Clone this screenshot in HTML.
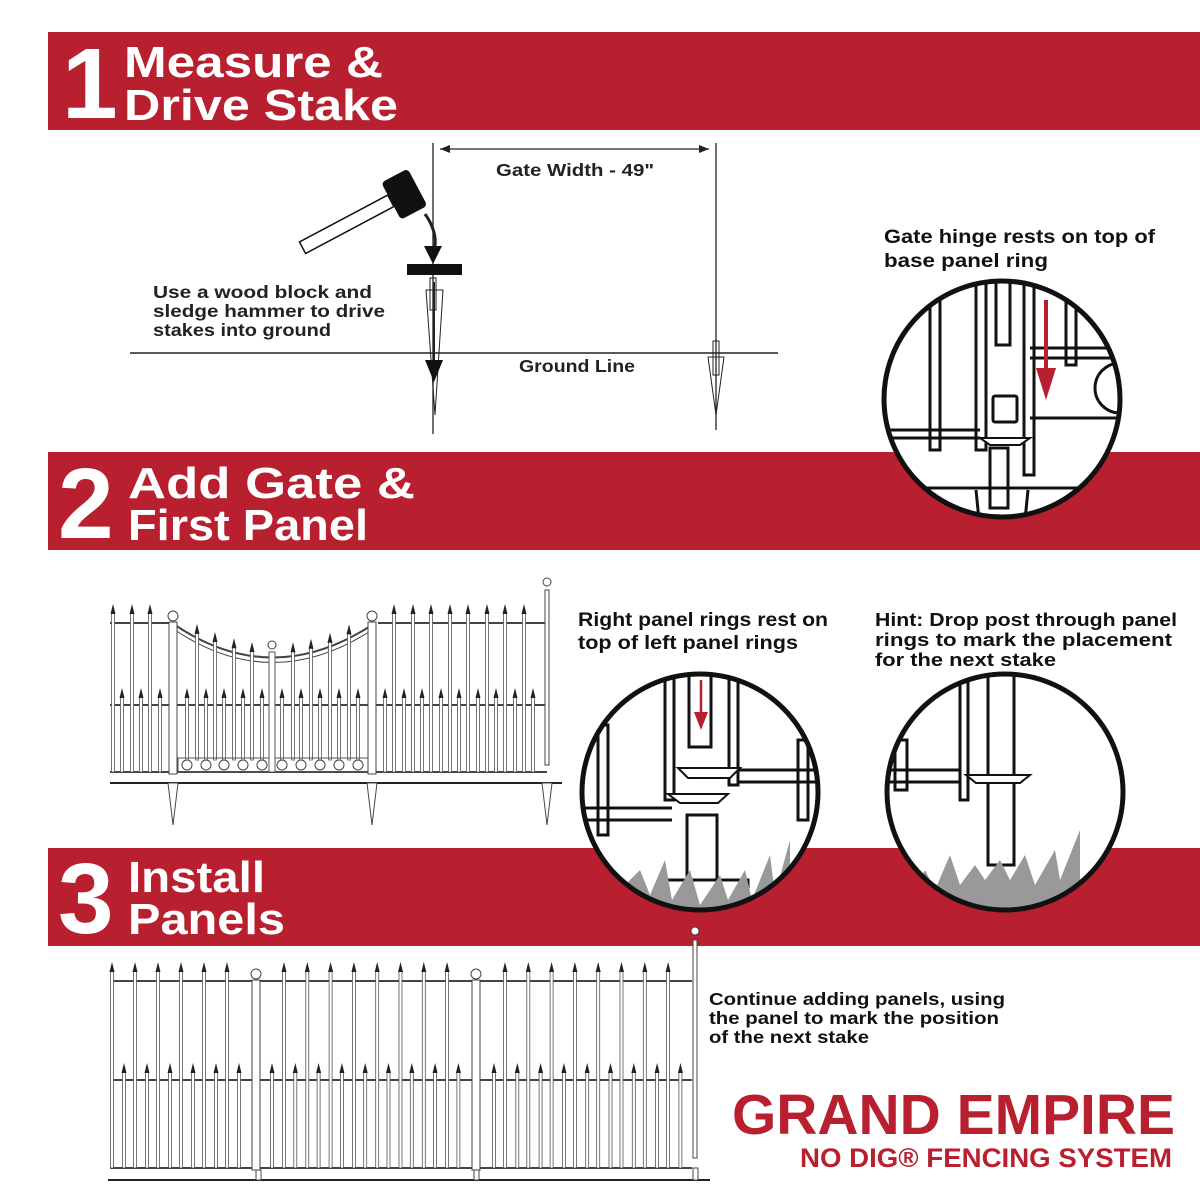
<!DOCTYPE html>
<html><head><meta charset="utf-8"><style>
html,body{margin:0;padding:0;background:#fff}
svg{display:block}
text{font-family:"Liberation Sans",sans-serif;font-weight:bold}
</style></head><body>
<svg id="s" width="1200" height="1200" viewBox="0 0 1200 1200" xmlns="http://www.w3.org/2000/svg">
<defs>
<clipPath id="c1"><circle cx="1002" cy="399" r="117"/></clipPath>
<clipPath id="c2"><circle cx="700" cy="792" r="118"/></clipPath>
<clipPath id="c3"><circle cx="1005" cy="792" r="118"/></clipPath>
</defs>
<rect width="1200" height="1200" fill="#fff"/>
<rect x="48" y="32" width="1152" height="98" fill="#b81f2f"/>
<rect x="48" y="452" width="1152" height="98" fill="#b81f2f"/>
<rect x="48" y="848" width="1152" height="98" fill="#b81f2f"/>
<g fill="#fff">
<text x="62" y="118" font-size="100">1</text>
<text x="124" y="77" font-size="44" textLength="259" lengthAdjust="spacingAndGlyphs">Measure &amp;</text>
<text x="124" y="120" font-size="44" textLength="274" lengthAdjust="spacingAndGlyphs">Drive Stake</text>
<text x="58" y="538" font-size="100">2</text>
<text x="128" y="498" font-size="44" textLength="287" lengthAdjust="spacingAndGlyphs">Add Gate &amp;</text>
<text x="128" y="540" font-size="44" textLength="240" lengthAdjust="spacingAndGlyphs">First Panel</text>
<text x="58" y="933" font-size="100">3</text>
<text x="128" y="892" font-size="44" textLength="137" lengthAdjust="spacingAndGlyphs">Install</text>
<text x="128" y="934" font-size="44" textLength="157" lengthAdjust="spacingAndGlyphs">Panels</text>
</g>
<g stroke="#222" fill="none">
<line x1="433" y1="143" x2="433" y2="434" stroke-width="1.3"/>
<line x1="716" y1="143" x2="716" y2="430" stroke-width="1.3"/>
<line x1="440" y1="149" x2="709" y2="149" stroke-width="1.3"/>
<line x1="130" y1="353" x2="778" y2="353" stroke-width="1.5"/>
<polygon points="426,290 443,290 435,415" stroke-width="1"/>
<rect x="430" y="278" width="6" height="32" stroke-width="1"/>
<polygon points="708,357 724,357 716,415" stroke-width="1"/>
<rect x="713" y="341" width="6" height="34" stroke-width="1"/>
<line x1="434" y1="282" x2="434" y2="365" stroke-width="2"/>
<path d="M425,214 Q440,235 433,255" stroke-width="3"/>
</g>
<polygon points="440,149 450,145 450,153" fill="#222"/>
<polygon points="709,149 699,145 699,153" fill="#222"/>
<polygon points="424,246 442,246 433,264" fill="#111"/>
<polygon points="425,360 443,360 434,382" fill="#111"/>
<rect x="407" y="264" width="55" height="11" fill="#111"/>
<g transform="translate(395,198) rotate(-28)">
<rect x="-105" y="-6" width="100" height="13" fill="#fff" stroke="#111" stroke-width="1.5"/>
<rect x="-5" y="-20" width="30" height="42" rx="4" fill="#111"/>
</g>
<g fill="#222" font-size="17.5">
<text x="496" y="176" textLength="158" lengthAdjust="spacingAndGlyphs">Gate Width - 49"</text>
<text x="519" y="372" textLength="116" lengthAdjust="spacingAndGlyphs">Ground Line</text>
<text x="153" y="298" textLength="219" lengthAdjust="spacingAndGlyphs">Use a wood block and</text>
<text x="153" y="317" textLength="232" lengthAdjust="spacingAndGlyphs">sledge hammer to drive</text>
<text x="153" y="336" textLength="178" lengthAdjust="spacingAndGlyphs">stakes into ground</text>
</g>
<g fill="#111" font-size="19.5">
<text x="884" y="243" textLength="271" lengthAdjust="spacingAndGlyphs">Gate hinge rests on top of</text>
<text x="884" y="267" textLength="164" lengthAdjust="spacingAndGlyphs">base panel ring</text>
<text x="578" y="626" textLength="250" lengthAdjust="spacingAndGlyphs">Right panel rings rest on</text>
<text x="578" y="649" textLength="220" lengthAdjust="spacingAndGlyphs">top of left panel rings</text>
</g>
<g fill="#111" font-size="18.5">
<text x="875" y="626" textLength="302" lengthAdjust="spacingAndGlyphs">Hint: Drop post through panel</text>
<text x="875" y="646" textLength="297" lengthAdjust="spacingAndGlyphs">rings to mark the placement</text>
<text x="875" y="666" textLength="181" lengthAdjust="spacingAndGlyphs">for the next stake</text>
</g>
<g fill="#111" font-size="17.5">
<text x="709" y="1005" textLength="296" lengthAdjust="spacingAndGlyphs">Continue adding panels, using</text>
<text x="709" y="1024" textLength="290" lengthAdjust="spacingAndGlyphs">the panel to mark the position</text>
<text x="709" y="1043" textLength="160" lengthAdjust="spacingAndGlyphs">of the next stake</text>
</g>
<text x="732" y="1134" font-size="57" fill="#b81f2f" textLength="443" lengthAdjust="spacingAndGlyphs">GRAND EMPIRE</text>
<text x="800" y="1167" font-size="27" fill="#b81f2f" textLength="372" lengthAdjust="spacingAndGlyphs">NO DIG® FENCING SYSTEM</text>

<circle cx="1002" cy="399" r="118" fill="#fff"/>
<g clip-path="url(#c1)" stroke="#111" stroke-width="3" fill="#fff">
<rect x="930" y="280" width="10" height="170"/>
<rect x="976" y="280" width="10" height="170"/>
<rect x="996" y="280" width="14" height="65"/>
<rect x="1024" y="280" width="10" height="195"/>
<rect x="1066" y="300" width="10" height="65"/>
<line x1="1030" y1="348" x2="1130" y2="348"/>
<line x1="1030" y1="358" x2="1130" y2="358"/>
<line x1="1030" y1="418" x2="1130" y2="418"/>
<circle cx="1120" cy="388" r="25"/>
<line x1="880" y1="430" x2="980" y2="430"/>
<line x1="880" y1="438" x2="980" y2="438"/>
<rect x="993" y="396" width="24" height="26" rx="2"/>
<path d="M980,438 L1030,438 L1020,445 L990,445 Z" stroke-width="2"/>
<rect x="990" y="448" width="18" height="60"/>
<line x1="880" y1="488" x2="1130" y2="488"/>
<path d="M976,490 L980,530 M1028,490 L1024,530" />
</g>
<line x1="1046" y1="300" x2="1046" y2="380" stroke="#b81f2f" stroke-width="4"/>
<polygon points="1036,368 1056,368 1046,400" fill="#b81f2f"/>
<circle cx="1002" cy="399" r="118" fill="none" stroke="#111" stroke-width="5"/>

<circle cx="700" cy="792" r="118" fill="#fff"/>
<g clip-path="url(#c2)" stroke="#111" stroke-width="3" fill="#fff">
<rect x="665" y="670" width="9" height="130"/>
<rect x="689" y="670" width="22" height="77"/>
<rect x="729" y="670" width="9" height="115"/>
<rect x="598" y="725" width="10" height="110"/>
<rect x="798" y="740" width="10" height="80"/>
<line x1="580" y1="808" x2="672" y2="808"/><line x1="580" y1="820" x2="672" y2="820"/>
<line x1="738" y1="770" x2="820" y2="770"/><line x1="738" y1="782" x2="820" y2="782"/>
<path d="M678,768 L740,768 L730,778 L688,778 Z" stroke-width="2"/>
<path d="M668,794 L728,794 L718,803 L680,803 Z" stroke-width="2"/>
<rect x="687" y="815" width="30" height="95"/>
<path d="M661,910 L661,880 L748,880 L748,910" fill="none"/>
</g>
<g clip-path="url(#c2)" fill="#999">
<path d="M600,910 L640,870 L650,895 L665,860 L672,900 L690,870 L700,905 L720,875 L728,900 L745,870 L752,900 L770,855 L775,895 L790,840 L790,915 Z"/>
</g>
<line x1="701" y1="680" x2="701" y2="718" stroke="#b81f2f" stroke-width="2.5"/>
<polygon points="694,712 708,712 701,730" fill="#b81f2f"/>
<circle cx="700" cy="792" r="118" fill="none" stroke="#111" stroke-width="5"/>

<circle cx="1005" cy="792" r="118" fill="#fff"/>
<g clip-path="url(#c3)" stroke="#111" stroke-width="3" fill="#fff">
<rect x="960" y="670" width="8" height="130"/>
<rect x="988" y="670" width="26" height="195"/>
<rect x="895" y="740" width="12" height="50"/>
<line x1="880" y1="770" x2="960" y2="770"/><line x1="880" y1="782" x2="960" y2="782"/>
<path d="M966,775 L1030,775 L1020,783 L976,783 Z" stroke-width="2"/>
</g>
<g clip-path="url(#c3)" fill="#999">
<path d="M900,915 L925,870 L935,890 L950,855 L960,885 L975,865 L985,880 L1000,860 L1010,880 L1025,855 L1035,885 L1055,850 L1060,880 L1080,830 L1080,915 Z"/>
</g>
<circle cx="1005" cy="792" r="118" fill="none" stroke="#111" stroke-width="5"/>

<g id="fences"></g>
</svg>
<script>
var g=document.getElementById('fences'),h='';
function ln(a,b,c,d,w,col){h+='<line x1="'+a+'" y1="'+b+'" x2="'+c+'" y2="'+d+'" stroke="'+(col||'#444')+'" stroke-width="'+(w||1)+'"/>';}
function pk(x,top,bot){h+='<rect x="'+(x-1.5)+'" y="'+top+'" width="3" height="'+(bot-top)+'" fill="#fff" stroke="#555" stroke-width="0.8"/>';
h+='<polygon points="'+(x-2.5)+','+(top+1)+' '+(x+2.5)+','+(top+1)+' '+x+','+(top-9)+'" fill="#222"/>';}
function post(x,top,bot){h+='<rect x="'+(x-4)+'" y="'+top+'" width="8" height="'+(bot-top)+'" fill="#fff" stroke="#444" stroke-width="1"/>';
h+='<circle cx="'+x+'" cy="'+(top-6)+'" r="5" fill="#fff" stroke="#444"/>';}
function stake(x,y){h+='<polygon points="'+(x-5)+','+y+' '+(x+5)+','+y+' '+x+','+(y+42)+'" fill="#fff" stroke="#444"/>';}
ln(110,623,173,623,2);ln(378,623,547,623,2);
ln(110,705,547,705,2);ln(110,772,547,772,2);
ln(110,783,562,783,2,'#222');
[113,132,150].forEach(function(x){pk(x,613,772)});
[122,141,160].forEach(function(x){pk(x,697,772)});
[394,413,431,450,468,487,505,524].forEach(function(x){pk(x,613,772)});
[385,404,422,441,459,478,496,515,533].forEach(function(x){pk(x,697,772)});
h+='<path d="M175,625 Q272,690 372,625" fill="none" stroke="#444" stroke-width="2"/>';
h+='<path d="M175,630 Q272,695 372,630" fill="none" stroke="#444" stroke-width="1"/>';
function archY(x){var t=(x-175)/197;return (1-t)*(1-t)*625+2*(1-t)*t*690+t*t*625;}
[197,215,234,252,293,311,330,349].forEach(function(x){pk(x,archY(x)-5,760)});
[187,206,224,243,262,282,301,320,339,358].forEach(function(x){pk(x,697,760)});
h+='<rect x="178" y="758" width="190" height="14" fill="none" stroke="#555"/>';
[187,206,224,243,262,282,301,320,339,358].forEach(function(x){h+='<circle cx="'+x+'" cy="765" r="5" fill="#fff" stroke="#444"/>';});
h+='<rect x="269" y="652" width="6" height="120" fill="#fff" stroke="#555"/><circle cx="272" cy="645" r="4" fill="#fff" stroke="#444"/>';
post(173,622,774);post(372,622,774);
h+='<rect x="545" y="590" width="4" height="175" fill="#fff" stroke="#444"/><circle cx="547" cy="582" r="4" fill="#fff" stroke="#444"/>';
stake(173,783);stake(372,783);stake(547,783);
// step 3 fence
ln(110,981,692,981,2);ln(110,1080,692,1080,2);ln(110,1168,692,1168,2);
ln(108,1180,710,1180,2,'#222');
for(var x=112;x<250;x+=23)pk(x,971,1168);
for(var x=124;x<250;x+=23)pk(x,1072,1168);
for(var x=284;x<470;x+=23.3)pk(x,971,1168);
for(var x=272;x<470;x+=23.3)pk(x,1072,1168);
for(var x=505;x<685;x+=23.3)pk(x,971,1168);
for(var x=494;x<690;x+=23.3)pk(x,1072,1168);
post(256,980,1170);post(476,980,1170);
h+='<rect x="256" y="1170" width="5" height="10" fill="#fff" stroke="#444"/><rect x="474" y="1170" width="5" height="10" fill="#fff" stroke="#444"/><rect x="693" y="1168" width="5" height="12" fill="#fff" stroke="#444"/>';
h+='<rect x="693" y="940" width="4" height="218" fill="#fff" stroke="#444"/><circle cx="695" cy="931" r="4" fill="#fff" stroke="#444"/>';
g.innerHTML=h;
</script>
</body></html>
